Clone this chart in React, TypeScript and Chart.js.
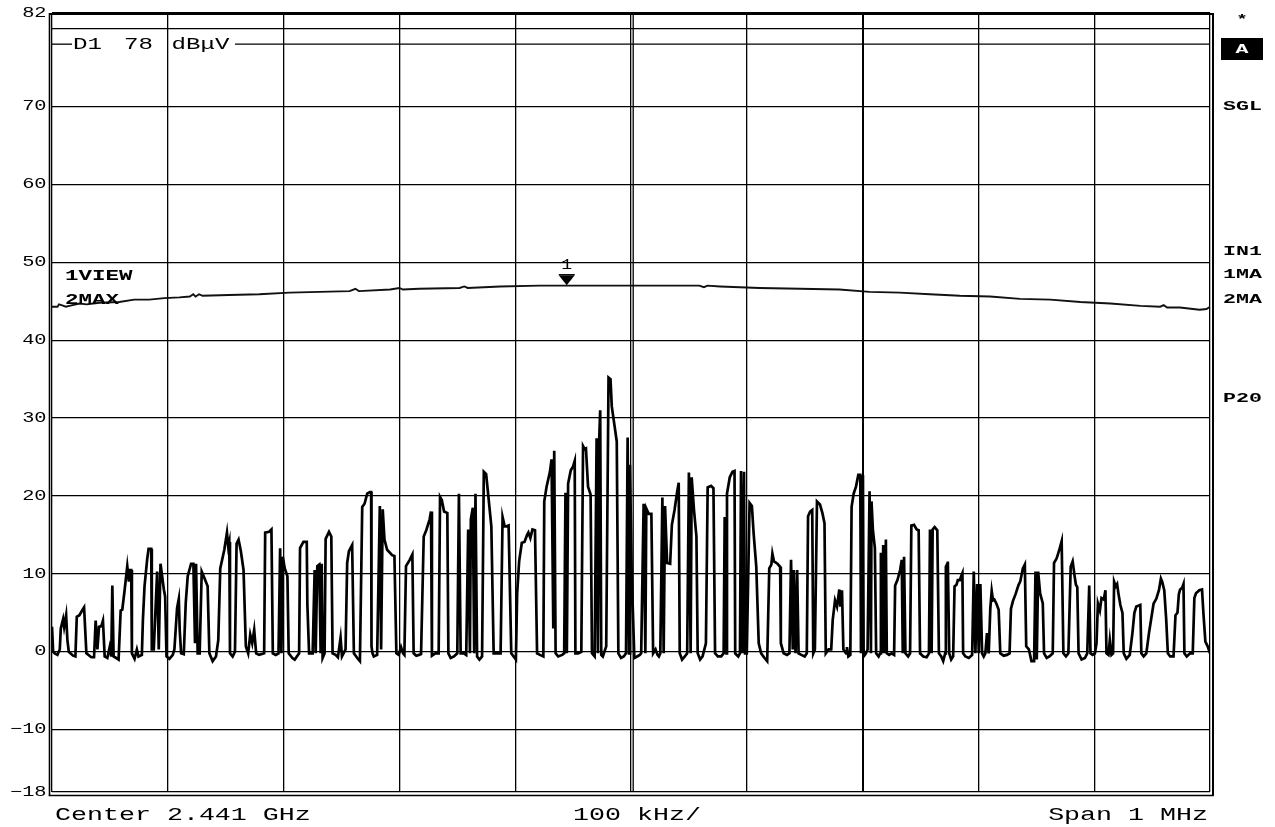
import React, { useEffect, useRef } from 'react';
import { Chart, registerables } from 'chart.js';
Chart.register(...registerables);

// ---------- data ----------
const yTickValues = [82, 70, 60, 50, 40, 30, 20, 10, 0, -10, -18];
const yGridValues = [-18, -10, 0, 10, 20, 30, 40, 50, 60, 70, 80, 82];
const xMinKHz = 0;
const xMaxKHz = 1000;
const xStepKHz = 100;
const displayLineLevel = 78;
const displayLineWords = ['D1', '78', 'dBμV'];
const markerFreqKHz = 444.5;
const markerLevel = 47.0;
const markerLabel = '1';
const traceLabels = ['1VIEW', '2MAX'];
const sideLabels = ['*', 'A', 'SGL', 'IN1', '1MA', '2MA', 'P20'];
const footerLabels = ['Center 2.441 GHz', '100 kHz/', 'Span 1 MHz'];

// trace 2: max hold (kHz offset from start, dBµV)
const maxHoldTrace: [number, number][] = [
  [0, 44.3], [4.8, 44.3], [6, 44.6], [8.2, 44.5], [12, 44.3], [15, 44.4], [23.8, 44.7], [30, 44.6],
  [41, 44.8], [58, 44.9], [71, 45.2], [84, 45.2], [97, 45.4], [110, 45.5], [119, 45.6], [122, 45.9],
  [124, 45.6], [127, 45.9], [130, 45.7], [153, 45.8], [179, 45.9], [205, 46.1], [231, 46.2], [257, 46.3],
  [262, 46.6], [265, 46.3], [292, 46.5], [300, 46.7], [303, 46.5], [317, 46.6], [352, 46.7], [356, 46.9],
  [359, 46.7], [387, 46.9], [421, 47.0], [473, 47.0], [525, 47.0], [559, 47.0], [563, 46.8], [566, 47.0],
  [577, 46.9], [611, 46.7], [646, 46.6], [680, 46.5], [706, 46.2], [732, 46.1], [758, 45.9], [784, 45.7],
  [810, 45.6], [836, 45.3], [862, 45.2], [888, 44.9], [914, 44.7], [940, 44.4], [957, 44.3], [960, 44.5],
  [963, 44.2], [974, 44.2], [991, 43.9], [997, 44.0], [1000, 44.3],
];

// trace 1: clear write / view (kHz offset from start, dBµV)
const viewTrace: [number, number][] = [
  [0, 3.2], [1, 0], [2.4, -0.2], [4.7, -0.4], [6.7, 0.3], [7.6, 3.0], [9.6, 4.2], [10.5, 3.2], [12.2, 4.7],
  [13.3, 1.5], [14.5, 0], [18.2, -0.5], [20.2, -0.6], [21.4, 4.5], [23.7, 4.7], [26, 5.3], [27.7, 5.7],
  [29.7, -0.2], [34, -0.7], [36.3, -0.7], [37.7, 4.0], [39.2, 0.3], [40.6, 3.2], [42.6, 3.3], [44, 4.0],
  [45.5, -0.6], [47.8, -0.8], [49.8, 0.6], [51.2, -0.6], [52.1, 8.5], [53.2, -0.6], [55.5, -0.8], [57.5, -1.0],
  [59.3, 5.3], [60.7, 5.4], [62.7, 7.9], [65, 11.0], [66.4, 9.0], [67.3, 10.5], [68.4, 10.5], [69, -0.2],
  [71.3, -0.9], [73.3, 0.3], [74.7, -0.6], [77.6, -0.4], [78.5, 4.1], [79.9, 8.4], [82.2, 11.9], [83.4, 13.2],
  [85.7, 13.2], [86.2, 0.3], [87.9, 0.3], [90.8, 10.3], [92.2, 0.3], [93.7, 11.3], [96.6, 8.0], [97.7, 7.1],
  [98.9, -0.6], [101.4, -0.9], [104.3, -0.4], [105.7, 0.3], [108, 5.6], [109.5, 6.8], [110.3, 2.8], [111.5, -0.2],
  [113.8, -0.3], [115.5, 6.3], [117.2, 9.7], [120.1, 11.3], [122.1, 11.3], [123.5, 1.1], [124.4, 11.3], [125.8, -0.2],
  [127.5, -0.2], [129.3, 10.3], [131, 9.7], [134.4, 8.4], [135.9, -0.2], [138.7, -1.2], [141.6, -0.6], [143.6, 1.5],
  [145.3, 10.7], [148.8, 13.1], [151.1, 15.3], [152.2, 13.5], [153.1, 14.1], [153.7, -0.2], [156, -0.6], [158, 0],
  [159.4, 13.9], [161.1, 14.4], [163.1, 12.9], [165.4, 10.5], [167.4, 0.7], [169.4, -0.2], [171.2, 2.2], [172.9, 1.1],
  [174.6, 2.8], [176.3, -0.2], [178.9, -0.4], [183.2, -0.2], [184.1, 15.3], [187.5, 15.4], [189.5, 15.7], [190.7, -0.2],
  [193.2, -0.4], [195.6, -0.2], [197, 13.3], [198.1, -0.2], [199.3, 12.2], [201, 10.7], [203.3, 9.7], [204.4, -0.2],
  [207.6, -0.8], [209.6, -1.0], [213.4, -0.2], [214.2, 13.3], [217.1, 14.1], [220, 14.1], [220.5, 6.2], [222, -0.2],
  [225.1, -0.2], [226.8, 10.5], [227.7, -0.2], [229.1, 11.0], [230.8, 11.2], [232, -0.2], [232.9, 11.3], [233.7, -0.8],
  [235.4, -0.2], [236.3, 14.5], [239.2, 15.4], [241.2, 14.8], [242.3, -0.2], [244.9, -0.4], [246.9, -0.7], [249.2, 1.8],
  [250.4, -0.6], [253.5, 0.3], [254.9, 11.4], [256.4, 12.9], [259.2, 13.7], [260.7, -0.2], [263.6, -0.8], [265.9, -1.2],
  [267.9, 18.6], [269.9, 19.0], [272.2, 20.3], [274.5, 20.5], [275.6, 20.5], [275.9, 0.7], [276.8, -0.2], [277.9, -0.6],
  [280.8, -0.4], [283.1, 18.7], [284.2, 0.3], [285.6, 18.3], [287.1, 14.4], [289.4, 13.1], [293.7, 12.4], [295.7, 12.3],
  [297.4, -0.2], [299.4, -0.4], [301.4, 0.6], [303.2, -0.2], [304.3, -0.4], [305.7, 11.0], [308.9, 11.8], [311.2, 12.5],
  [312.3, -0.2], [314.6, -0.5], [316.9, -0.4], [318.7, -0.3], [321, 14.8], [323.2, 15.6], [326.1, 17.0], [327.3, 18.0],
  [328.1, -0.5], [331, -0.2], [333.9, -0.2],
  [335.1, 19.9], [336.6, 19.5], [338.6, 18.0], [341.4, 17.8], [342.3, -0.2], [344.3, -0.8], [347.1, -0.6], [350, -0.2],
  [351.4, 20.3], [352.9, -0.2], [355.7, -0.2], [357.7, -0.4], [359.4, 15.7], [360.9, -0.2], [361.7, 17.0], [363.4, 18.5],
  [364.6, -0.2], [365.7, 20.3], [367.1, -0.6], [369.1, -1.0], [371.4, -0.6], [372.9, 23.1], [374.9, 22.8], [376.6, 20.3],
  [379.4, 16.1], [381.4, -0.2], [383.4, -0.2], [385.7, -0.2], [387.4, -0.2], [389.1, 17.3], [390.9, 16.1], [392.6, 16.1],
  [394.3, 16.2], [396.6, -0.2], [398.6, -0.6], [400.6, -1.0], [401.7, 7.5], [403.4, 11.6], [405.7, 14.0], [408, 14.1],
  [410.3, 15.0], [411.4, 15.3], [413.1, 14.6], [414.9, 15.7], [417.1, 15.6], [418.9, -0.2], [421.4, -0.4], [424.3, -0.6],
  [425.1, 19.3], [427.1, 21.2], [430, 23.1], [431.4, 24.7], [432.9, 3.0], [433.7, 25.8], [434.9, -0.2], [437.1, -0.6],
  [440.6, -0.4], [442.3, -0.2], [443.4, 20.4], [444.6, -0.2], [445.7, 21.6], [448, 23.3], [450, 23.8], [451.4, 24.5],
  [452, -0.2], [454.3, -0.2], [457.1, 0], [458.6, 26.4], [460, 26.0], [461.1, 26.1], [462.9, 21.2], [465.1, 20.2],
  [466.3, -0.2], [468.6, -0.6], [470.3, 27.4], [471.4, -0.2], [472.6, 27.5], [473.4, 31.0], [474.3, -0.4], [475.7, -0.6],
  [478.6, 0.7], [480.6, 35.2], [482.3, 35.0], [483.4, 31.5], [485.7, 29.1], [487.7, 27.0], [489.1, -0.2], [491.4, -0.8],
  [493.7, -0.6], [495.7, -0.2], [497.1, 27.5], [498.3, -0.2], [499.1, 24.0], [500.6, 10.0], [502.9, -0.8], [505.3, -0.6],
  [507.6, -0.4], [508.8, -0.2], [510.9, 19.0], [512.4, -0.2], [513.2, 18.4], [515.3, 17.7], [517.6, 17.7], [519.1, -0.2],
  [521.2, 0.3], [522.9, -0.4], [524.1, -0.6], [525.3, -0.2], [527.1, 19.8], [528.2, -0.2], [529.4, 18.7], [531.2, 11.4],
  [533.8, 11.3], [535.3, 16.3], [537.6, 18.2], [539.7, 20.4], [541.2, 21.7], [542.1, -0.2], [544.1, -1.0], [546.5, -0.6],
  [548.5, -0.2], [550, 23.0], [551.5, -0.2], [552.4, 22.4], [554.4, 18.2], [556.5, 14.8], [557.6, -0.2], [559.7, -1.0],
  [561.8, -0.6], [564.7, 1.1], [566.2, 21.1], [569.1, 21.3], [571.2, 21.0], [572.6, -0.2], [575, -0.6], [577.9, -0.6],
  [580, -0.2], [580.9, 17.3], [582.4, -0.2], [582.9, 20.3], [585.3, 22.4], [587.6, 23.1], [589.4, 23.2], [590, -0.2],
  [592.6, -0.6], [594.1, -0.2], [595, 23.2], [596.5, -0.2], [597.6, 23.1], [598.5, -0.2], [600, -0.2], [602.4, 19.1],
  [604.4, 18.7], [605.9, 15.2], [608.2, 10.9], [610.3, 1.1], [612.4, -0.2], [615.3, -0.8], [617.6, -1.2], [619.4, 10.7],
  [621.2, 11.2], [622.1, 12.6], [623.5, 11.6], [626.5, 11.3], [628.8, 10.9], [629.4, 1.1], [631.8, -0.2], [634.7, -0.4],
  [636.8, -0.2], [638.2, 11.8], [639.7, 0.3], [640.6, 10.5], [642.1, -0.2], [643.5, 10.5], [644.7, -0.2], [647.1, -0.4],
  [650, -0.6], [651.8, -0.2], [652.9, 17.4], [654.7, 18.0], [656.5, 18.2], [657.4, -0.2], [658.8, 0.3], [660.6, 19.3],
  [663.2, 18.9], [665.3, 17.8], [667.1, 16.5], [668.2, -0.2], [670.6, 0.3], [672.9, 0.3],
  [674.2, 4.1], [676.2, 6.6], [677.9, 5.8], [679.9, 8.0], [680.8, 5.8], [682.2, 7.9], [683.4, 0.3], [685.7, -0.2],
  [686.5, 0.6], [687.7, -0.6], [689.4, -0.4], [690.5, 18.6], [692.3, 20.3], [694.3, 21.2], [696.3, 22.7], [698, 22.7],
  [698.6, -0.2], [700.3, 22.7], [700.9, -0.6], [702.9, -0.2], [704.3, 0.3], [706, 20.6], [707.2, -0.2], [707.7, 19.3],
  [708.9, 15.6], [710.6, 13.3], [711.7, -0.2], [713.8, -0.6], [715.2, -0.2], [715.8, 12.7], [716.9, -0.2], [717.8, 13.7],
  [719.2, -0.2], [720.1, 14.4], [720.9, -0.2], [722.9, -0.4], [724.9, -0.2], [727.2, -0.4], [728.1, 8.5], [730.1, 9.2],
  [732.4, 10.5], [733.8, 11.8], [734.7, -0.2], [735.8, 12.2], [737, -0.2], [739.3, -0.6], [741, -0.2], [742.1, 16.2],
  [744.4, 16.3], [746.7, 15.7], [748.4, 15.6], [749.6, -0.2], [752.4, -0.6], [755.3, -0.7], [757.3, -0.2], [758.2, 15.7],
  [759.6, -0.2], [760.5, 15.7], [762.2, 16.0], [764.5, 15.6], [765.9, -0.2], [767.9, -0.6], [769.6, -1.2], [771.3, -0.2],
  [771.9, 10.9], [773.1, 11.3], [773.6, 11.6], [774.8, -0.2], [776.5, -1.0], [778.2, -0.6], [779.4, 8.4], [781.1, 8.6],
  [782.2, 9.2], [784, 9.2], [785.1, 9.7], [786.2, 10.1], [786.8, -0.2], [788.8, -0.6], [791.7, -0.8], [794.6, -0.4],
  [796, 10.3], [797.4, -0.2], [798.9, 8.7], [800.3, -0.2], [801.7, 8.7], [803.2, -0.2], [804.6, -0.6], [806, -0.2],
  [807.4, 2.4], [808.9, -0.2], [810.3, 5.6], [811.5, 7.8], [812.6, 6.6], [813.8, 6.7], [815.5, 6.2], [817.5, 5.4],
  [818.9, -0.2], [821.8, -0.5], [824.6, -0.4], [826.9, -0.2], [828.1, 5.5], [829.8, 6.5], [832.1, 7.4], [834.7, 8.6],
  [836.1, 9.0], [838.4, 10.7], [840.1, 11.2], [841.3, 0.7], [843.6, 0.3], [845.8, -1.2], [848.1, -1.2], [849.3, 10.3],
  [850.4, -1.0], [851.6, 10.3], [853.3, 7.5], [855.6, 6.2], [856.7, -0.2], [859, -0.8], [861.3, -0.6], [864.2, -0.2],
  [865.3, 11.4], [867.6, 12.0], [869.9, 13.1], [871.9, 14.2], [873.4, -0.2], [875.6, -0.6], [877.7, -0.2], [879.7, 10.9],
  [881.4, 11.6], [883.1, 9.7], [884.2, 8.6], [885.4, 8.3], [886.5, -0.2], [889.1, -1.0], [892, -0.8], [894, -0.2],
  [895.7, 8.5], [896.8, -0.2], [898.6, -0.4], [900.6, -0.2], [902, 1.1], [903.2, 6.2], [904.9, 5.3], [906.3, 6.9],
  [908.3, 6.7], [909.7, 7.9], [910.6, -0.2], [912.3, -0.4], [913.5, 1.5], [914.9, -0.4], [916.3, -0.2], [917.2, 9.0],
  [918.6, 8.4], [919.8, 8.7], [920.9, 7.5], [922.6, 6.0], [924.4, 5.0], [925.5, -0.2], [927.8, -0.9], [930.7, -0.4],
  [933, 2.4], [934.7, 5.0], [936.4, 5.8], [938.1, 5.9], [939.8, 6.0], [940.7, -0.2], [942.7, -0.6], [945, -0.2],
  [947.3, 2.4], [949.3, 4.3], [951.3, 6.2], [953.6, 6.8], [955.9, 7.9], [957.6, 9.4], [958.7, 9.0], [960.5, 7.9],
  [962.2, 4.1], [963.6, -0.2], [965.6, -0.6], [968.5, -0.6], [970.2, 4.7], [971.9, 5.0], [973.1, 7.4], [974.2, 8.0],
  [975.9, 8.2], [977.1, 8.7], [977.9, -0.2], [979.9, -0.6], [982.8, -0.2], [985.1, -0.2], [986.5, 6.9], [987.9, 7.5],
  [990.8, 7.9], [993.1, 8.0], [994.3, 5.0], [996, 1.3], [998, 0.7], [1000, -0.2],
];

// ---------- drawing helpers ----------
const FONT = '"Liberation Mono", "DejaVu Sans Mono", monospace';

function stretchText(
  ctx: CanvasRenderingContext2D, s: string, x: number, y: number,
  size: number, sx: number, align: 'left' | 'right' | 'center' = 'left',
  bold = false, color = '#000'
) {
  ctx.save();
  ctx.font = `${bold ? 'bold ' : ''}${size}px ${FONT}`;
  const w = ctx.measureText(s).width * sx;
  const x0 = align === 'right' ? x - w : align === 'center' ? x - w / 2 : x;
  ctx.translate(x0, y);
  ctx.scale(sx, 1);
  ctx.textAlign = 'left';
  ctx.textBaseline = 'middle';
  ctx.fillStyle = color;
  ctx.fillText(s, 0, 0);
  ctx.restore();
}

function hLine(ctx: CanvasRenderingContext2D, x1: number, x2: number, y: number, w: number) {
  ctx.beginPath(); ctx.lineWidth = w; ctx.moveTo(x1, y); ctx.lineTo(x2, y); ctx.stroke();
}
function vLine(ctx: CanvasRenderingContext2D, x: number, y1: number, y2: number, w: number) {
  ctx.beginPath(); ctx.lineWidth = w; ctx.moveTo(x, y1); ctx.lineTo(x, y2); ctx.stroke();
}

const decorPlugin = {
  id: 'decor',
  afterDraw(chart: any) {
    const { ctx, chartArea: a, scales } = chart;
    const xs = scales.x, ys = scales.y;
    ctx.save();
    ctx.strokeStyle = '#000';

    // frame (double lines)
    vLine(ctx, a.left - 2.5, a.top, a.bottom + 3.5, 1.6);
    vLine(ctx, a.right + 3, a.top, a.bottom + 3.5, 2);
    hLine(ctx, a.left - 2.5, a.right + 3, a.top + 1, 2);
    hLine(ctx, a.left - 3.3, a.right + 3.8, a.bottom + 3.5, 1.6);
    // center double line, thicker 700 kHz line
    const xc = xs.getPixelForValue((xMinKHz + xMaxKHz) / 2);
    vLine(ctx, xc + 2.2, a.top, a.bottom, 1.3);
    const x7 = xs.getPixelForValue(700);
    vLine(ctx, x7 + 0.8, a.top, a.bottom, 1.2);

    // display line D1
    const yd = ys.getPixelForValue(displayLineLevel);
    hLine(ctx, a.left, 72, yd, 1.3);
    hLine(ctx, 235, a.right, yd, 1.3);
    stretchText(ctx, displayLineWords[0], 73, yd + 0.5, 17, 1.42);
    stretchText(ctx, displayLineWords[1], 124, yd + 0.5, 17, 1.42);
    stretchText(ctx, displayLineWords[2], 171.5, yd + 0.5, 17, 1.42);

    // y tick labels
    yTickValues.forEach((v) => {
      const t = v < 0 ? '\u2212' + String(-v) : String(v);
      stretchText(ctx, t, 46.5, ys.getPixelForValue(v), 14, 1.45, 'right');
    });

    // marker
    const mx = xs.getPixelForValue(markerFreqKHz);
    const my = ys.getPixelForValue(markerLevel);
    ctx.fillStyle = '#000';
    ctx.beginPath();
    ctx.moveTo(mx - 8, my - 10.5);
    ctx.lineTo(mx + 8, my - 10.5);
    ctx.lineTo(mx, my - 0.5);
    ctx.closePath();
    ctx.fill();
    hLine(ctx, mx - 8, mx + 8, my - 11, 1.2);
    stretchText(ctx, markerLabel, mx, my - 20, 14, 1.3, 'center');

    // trace labels
    stretchText(ctx, traceLabels[0], 65, 276, 15, 1.5, 'left', true);
    stretchText(ctx, traceLabels[1], 65, 300, 15, 1.5, 'left', true);

    // side labels
    stretchText(ctx, sideLabels[0], 1242, 20, 12, 1.6, 'center', true);
    ctx.fillStyle = '#000';
    ctx.fillRect(1221, 38, 42, 22);
    stretchText(ctx, sideLabels[1], 1242, 49.5, 12, 1.8, 'center', true, '#fff');
    stretchText(ctx, sideLabels[2], 1223, 107, 12, 1.8, 'left', true);
    stretchText(ctx, sideLabels[3], 1223, 252, 12, 1.8, 'left', true);
    stretchText(ctx, sideLabels[4], 1223, 274.5, 12, 1.8, 'left', true);
    stretchText(ctx, sideLabels[5], 1223, 300, 12, 1.8, 'left', true);
    stretchText(ctx, sideLabels[6], 1223, 399, 12, 1.8, 'left', true);

    // footer
    stretchText(ctx, footerLabels[0], 55, 815, 18, 1.48, 'left');
    stretchText(ctx, footerLabels[1], 637, 815, 18, 1.48, 'center');
    stretchText(ctx, footerLabels[2], 1208, 815, 18, 1.48, 'right');

    ctx.restore();
  },
};

export default function App() {
  const ref = useRef<HTMLCanvasElement | null>(null);
  useEffect(() => {
    if (!ref.current) return;
    const chart = new Chart(ref.current, {
      type: 'line',
      data: {
        datasets: [
          {
            label: '2MAX',
            data: maxHoldTrace.map(([x, y]) => ({ x, y })),
            borderColor: '#111',
            borderWidth: 1.9,
            pointRadius: 0,
            tension: 0,
          },
          {
            label: '1VIEW',
            data: viewTrace.map(([x, y]) => ({ x, y })),
            borderColor: '#000',
            borderWidth: 2.7,
            pointRadius: 0,
            tension: 0,
          },
        ],
      },
      options: {
        animation: false,
        responsive: false,
        devicePixelRatio: 1,
        layout: { padding: { left: 0, right: 65, top: 13, bottom: 35 } },
        plugins: { legend: { display: false }, tooltip: { enabled: false } },
        scales: {
          x: {
            type: 'linear',
            min: xMinKHz,
            max: xMaxKHz,
            ticks: { display: false, stepSize: xStepKHz },
            grid: { color: '#000', lineWidth: 1.3, drawTicks: false },
            border: { display: false },
            afterFit: (s: any) => { s.height = 0; },
          },
          y: {
            type: 'linear',
            min: -18,
            max: 82,
            ticks: { display: false },
            afterBuildTicks: (s: any) => { s.ticks = yGridValues.map((value) => ({ value })); },
            grid: { color: '#000', lineWidth: 1.3, drawTicks: false },
            border: { display: false },
            afterFit: (s: any) => { s.width = 52; },
          },
        },
      },
      plugins: [decorPlugin],
    });
    return () => chart.destroy();
  }, []);
  return (
    <div style={{ position: 'absolute', left: 0, top: 0, width: 1275, height: 827, background: '#fff' }}>
      <canvas ref={ref} width={1275} height={827} style={{ display: 'block' }} />
    </div>
  );
}
